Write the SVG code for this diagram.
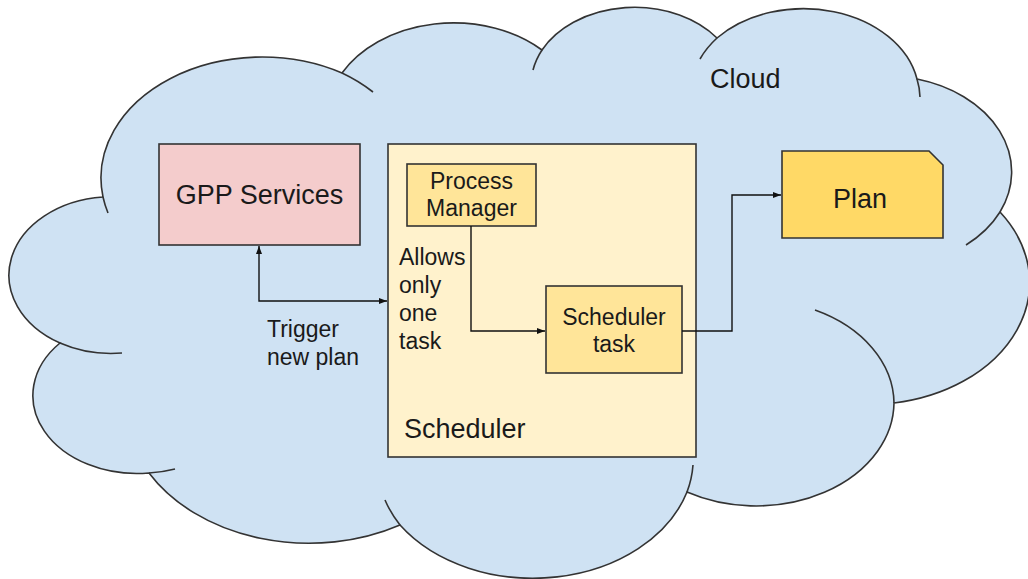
<svg xmlns="http://www.w3.org/2000/svg" width="1028" height="579" viewBox="0 0 1028 579">
  <defs>
    <marker id="arrow" viewBox="0 0 8 6" refX="8" refY="3" markerWidth="8" markerHeight="6" markerUnits="userSpaceOnUse" orient="auto-start-reverse">
      <path d="M0,0 L8,3 L0,6 z" fill="#111"/>
    </marker>
  </defs>
  <style>
    .cloud { fill: #cfe2f3; stroke: #333; stroke-width: 1.6; }
    .crease { fill: none; stroke: #333; stroke-width: 1.6; }
    .box { stroke: #333; stroke-width: 1.6; }
    .link { fill: none; stroke: #111; stroke-width: 1.4; }
    text { font-family: "Liberation Sans", Arial, sans-serif; fill: #1a1a1a; }
    .big { font-size: 27px; }
    .small { font-size: 23px; }
    .mid { text-anchor: middle; }
  </style>

  <!-- Cloud container -->
  <g id="cloud">
    <path class="cloud" d="M103,197
      A161,121 0 0 1 342,73
      A127,96 0 0 1 542,50
      A104,78.5 0 0 1 717,38
      A115.6,87 0 0 1 917,79
      A127,96 0 0 1 1000,212
      A161,122 0 0 1 894,403
      A138,104 0 0 1 687,492
      A161,122 0 0 1 400,525
      A184,139 0 0 1 149,473
      A104,78 0 0 1 60,343
      A103,78.5 0 0 1 103,197 Z"/>
    <path class="crease" d="M108,213 A161,121 0 0 1 103,197
      M342,73 A161,121 0 0 1 373,92
      M533,70 A104,78.5 0 0 1 542,50
      M700,59 A115.6,87 0 0 1 717,38
      M917,79 A115.6,87 0 0 1 920,97
      M1000,212 A127,96 0 0 1 966,245
      M815,310 A138,104 0 0 1 894,403
      M693,465 A161,122 0 0 1 687,492
      M400,525 A161,122 0 0 1 385,500
      M175,469 A104,78 0 0 1 149,473
      M122,353 A103,78.5 0 0 1 60,343"/>
    <text class="big" x="710" y="88">Cloud</text>
  </g>

  <g id="gpp-services">
    <rect class="box" x="159" y="144" width="201" height="101" fill="#f4cccc"/>
    <text class="big mid" x="259.5" y="204">GPP Services</text>
  </g>

  <g id="scheduler">
    <rect class="box" x="388" y="144" width="308" height="313" fill="#fff2cc"/>
    <text class="small" x="399" y="265">Allows</text>
    <text class="small" x="399" y="293">only</text>
    <text class="small" x="399" y="321">one</text>
    <text class="small" x="399" y="349">task</text>
    <text class="big" x="404" y="438">Scheduler</text>
  </g>

  <g id="process-manager">
    <rect class="box" x="407" y="164" width="129" height="62" fill="#ffe599"/>
    <text class="small mid" x="471.5" y="189">Process</text>
    <text class="small mid" x="471.5" y="216">Manager</text>
  </g>

  <g id="scheduler-task">
    <rect class="box" x="546" y="286" width="136" height="87" fill="#ffe599"/>
    <text class="small mid" x="614" y="325">Scheduler</text>
    <text class="small mid" x="614" y="352">task</text>
  </g>

  <g id="plan">
    <path class="box" d="M782,151 L929,151 L943,165 L943,238 L782,238 Z" fill="#ffd966"/>
    <text class="big mid" x="860" y="208">Plan</text>
  </g>

  <g id="connectors">
    <path class="link" d="M259,246 L259,301 L387,301" marker-start="url(#arrow)" marker-end="url(#arrow)"/>
    <path class="link" d="M471,226 L471,331 L545,331" marker-end="url(#arrow)"/>
    <path class="link" d="M682,331 L732,331 L732,195 L781,195" marker-end="url(#arrow)"/>
    <text class="small" x="267" y="337">Trigger</text>
    <text class="small" x="267" y="365">new plan</text>
  </g>
</svg>
